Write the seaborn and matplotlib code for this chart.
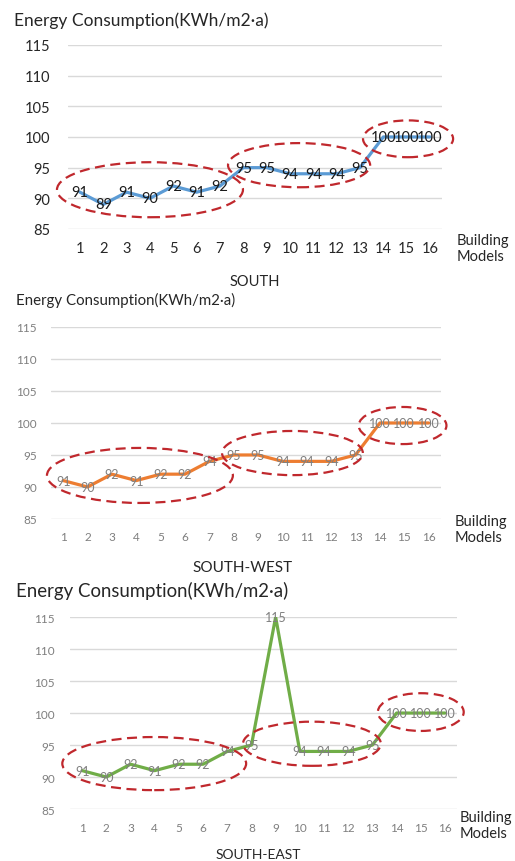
import matplotlib
matplotlib.use("Agg")
import matplotlib.pyplot as plt
from matplotlib.patches import Ellipse
import seaborn as sns
import pandas as pd

models = list(range(1, 17))
south = [91, 89, 91, 90, 92, 91, 92, 95, 95, 94, 94, 94, 95, 100, 100, 100]
south_west = [91, 90, 92, 91, 92, 92, 94, 95, 95, 94, 94, 94, 95, 100, 100, 100]
south_east = [91, 90, 92, 91, 92, 92, 94, 95, 115, 94, 94, 94, 95, 100, 100, 100]
y_ticks = [85, 90, 95, 100, 105, 110, 115]

title = "Energy Consumption(KWh/m2·a)"

sns.set_style("white")
plt.rcParams['font.family'] = ['Lato', 'DejaVu Sans']

fig = plt.figure(figsize=(5.15, 8.62), dpi=100)
W, H = 515, 862


def px(x, y):
    return x / W, 1 - y / H


def panel(rect, values, color, name, ellipses, tick_size, tick_color,
          label_size, label_color, title_size, title_xy, bm_xy, name_xy,
          xpad, ypad, name_size):
    ax = fig.add_axes(rect)
    df = pd.DataFrame({"model": [str(m) for m in models], "value": values})
    sns.lineplot(data=df, x="model", y="value", color=color, linewidth=2.3,
                 sort=False, ax=ax)
    ax.set_xlim(-0.5, len(models) - 0.5)
    ax.set_ylim(85, 115)
    ax.set_yticks(y_ticks)
    ax.yaxis.grid(True, color="#d9d9d9", linewidth=1)
    ax.xaxis.grid(False)
    for s in ax.spines.values():
        s.set_visible(False)
    ax.tick_params(axis="both", length=0, labelsize=tick_size, colors=tick_color)
    ax.tick_params(axis="x", pad=xpad)
    ax.tick_params(axis="y", pad=ypad)
    ax.set_xlabel("")
    ax.set_ylabel("")
    for i, v in enumerate(values):
        ax.text(i, v, str(v), ha="center", va="center", fontsize=label_size,
                color=label_color, zorder=5)
    for cx, cy, w, h in ellipses:
        e = Ellipse((cx - 1, cy), w, h, fill=False, edgecolor="#c0282d",
                    linewidth=1.6, linestyle=(0, (4.5, 2.5)), clip_on=False,
                    zorder=6)
        ax.add_patch(e)
    tx, ty = px(*title_xy)
    fig.text(tx, ty, title, fontsize=title_size, color="#262626",
             ha="left", va="center")
    bx, by = px(*bm_xy)
    fig.text(bx, by, "Building\nModels", fontsize=10.5, color="#262626",
             ha="left", va="center", linespacing=1.2)
    nx, ny = px(*name_xy)
    fig.text(nx, ny, name, fontsize=name_size, color="#262626",
             ha="center", va="center")
    return ax


panel([0.1326, 0.7332, 0.725, 0.2135], south, "#5b9bd5", "SOUTH",
      [(4.0, 91.4, 7.97, 8.97), (10.39, 95.4, 6.09, 7.2), (15.06, 99.7, 3.86, 6.0)],
      10.5, "#262626", 10.5, "#1a1a1a", 12.5, (14, 21), (457, 249), (255, 282),
      9, 13, 10.5)

panel([0.099, 0.3968, 0.757, 0.2227], south_west, "#ed7d31", "SOUTH-WEST",
      [(4.15, 91.8, 7.63, 8.6), (10.41, 95.3, 5.78, 6.9), (14.93, 99.6, 3.6, 5.8)],
      8.5, "#7f7f7f", 9, "#7f7f7f", 10.8, (16, 300), (455, 530), (243, 568),
      9, 10, 11)

panel([0.136, 0.0603, 0.7515, 0.2227], south_east, "#70ad47", "SOUTH-EAST",
      [(3.98, 92.1, 7.6, 8.3), (10.5, 95.2, 5.7, 6.9), (15.0, 100.15, 3.55, 5.9)],
      8.5, "#7f7f7f", 9, "#7f7f7f", 13.4, (16, 591), (460, 826), (258, 855),
      9, 11, 10)

fig.savefig("out.png", dpi=100)
